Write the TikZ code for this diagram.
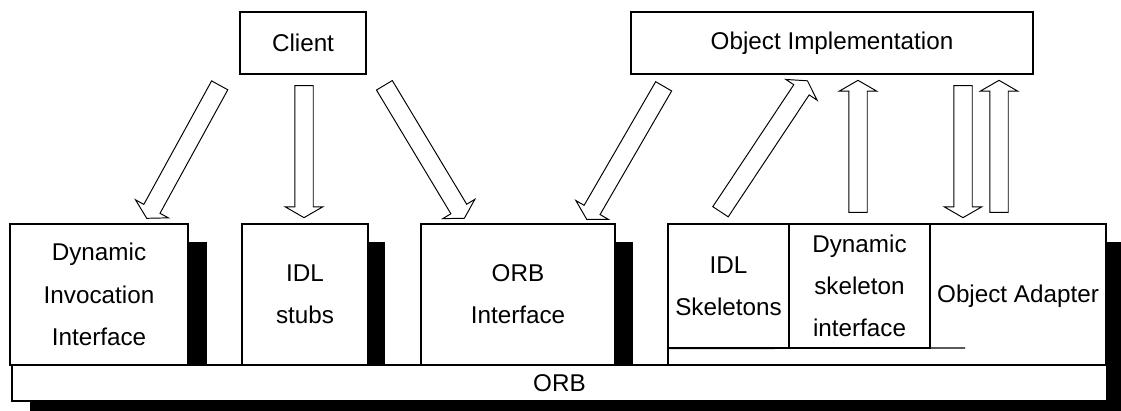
\documentclass[tikz,border=0pt]{standalone}
\usepackage{fontspec}
\setmainfont{Liberation Sans}
\usetikzlibrary{calc,shapes.arrows}

\tikzset{
  box/.style={draw, fill=white, line width=0.7pt, align=center,
    font=\fontsize{13.8}{24}\selectfont},
  shade/.style={fill=black, draw=none},
  hollow/.style={single arrow, draw, fill=white, line width=0.55pt,
    inner xsep=0pt, inner ysep=0.175cm, single arrow head extend=0.19cm,
    single arrow tip angle=120, single arrow head indent=0pt}
}

\begin{document}
\begin{tikzpicture}[x=0.02cm,y=-0.02cm]
  \useasboundingbox (0,0) rectangle (1121,411);
  % Draw the shadows
  \fill[shade] (188,242) rectangle (207,365);
  \fill[shade] (368,242) rectangle (385,365);
  \fill[shade] (615,242) rectangle (633,365);
  \fill[shade] (1106,242) rectangle (1121,411);
  \fill[shade] (30,401) rectangle (1121,411);
  % Top boxes
  \node[box, minimum width=2.52cm, minimum height=1.24cm] (client) at (303,43) {Client};
  \node[box, minimum width=8.04cm, minimum height=1.24cm] (impl) at (832,43) {Object Implementation};
  % Client side
  \node[box, minimum width=3.56cm, minimum height=2.82cm] (dii) at (99,294.5) {Dynamic\\Invocation\\Interface};
  \node[box, minimum width=2.52cm, minimum height=2.82cm] (stubs) at (305,294.5) {IDL\\stubs};
  \node[box, minimum width=3.88cm, minimum height=2.82cm] (orbif) at (518,294.5) {ORB\\Interface};
  % Server side
  \node[box, minimum width=8.76cm, minimum height=2.82cm] (server) at (887,294.5) {};
  \node[box, minimum width=2.42cm, minimum height=2.48cm] (skel) at (728.5,286) {IDL\\Skeletons};
  \node[box, minimum width=2.82cm, minimum height=2.48cm] (dsi) at (859.5,286) {Dynamic\\skeleton\\interface};
  \node[box, draw=none, fill=none] (adapter) at (1018,296) {Object Adapter};
  \coordinate (base) at (965,348);
  \draw[line width=0.7pt] (skel.south west) -- (base);
  % ORB
  \node[box, minimum width=21.9cm, minimum height=0.72cm] (orb) at (559.5,383) {ORB};
  % Arrow ends
  \coordinate (c1) at (221,83);   \coordinate (c1h) at (148,216);
  \coordinate (c2) at (304,83);   \coordinate (c2h) at (304,215);
  \coordinate (c3) at (383,83);   \coordinate (c3h) at (463,216);
  \coordinate (o1) at (665,84);   \coordinate (o1h) at (588,217);
  \coordinate (s1) at (719,214);  \coordinate (s1h) at (806,83);
  \coordinate (s2) at (858,215);  \coordinate (s2h) at (858,83);
  \coordinate (a1) at (963,83);   \coordinate (a1h) at (963,215);
  \coordinate (a2) at (999,215);  \coordinate (a2h) at (999,83);
  % Draw the hollow arrows
  \foreach \t/\h in {c1/c1h, c2/c2h, c3/c3h, o1/o1h, s1/s1h, s2/s2h, a1/a1h, a2/a2h}
    \path let \p1=($(\h)-(\t)$), \n1={veclen(\x1,\y1)} in
      (\t) -- (\h) node[hollow, midway, sloped, allow upside down, minimum height=\n1] {};
\end{tikzpicture}
\end{document}
